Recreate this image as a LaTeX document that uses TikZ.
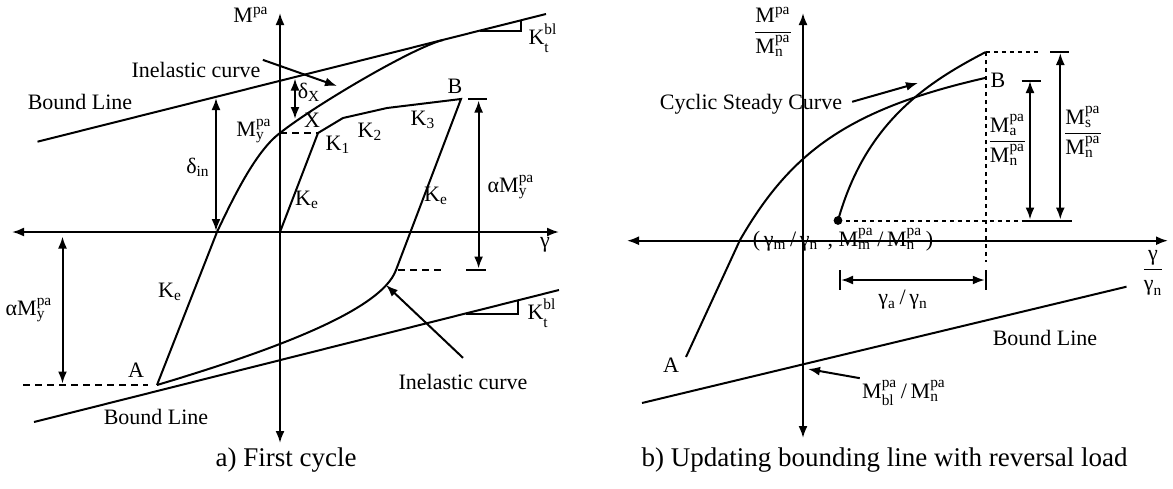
\documentclass[tikz,border=0pt]{standalone}
\usepackage{fontspec}
\setmainfont{Liberation Serif}
\usepackage{amsmath}
\usetikzlibrary{arrows.meta}

\newcommand{\lblfont}{\fontsize{11}{13}\selectfont}
\newcommand{\capfont}{\fontsize{13.5}{16}\selectfont}
\newcommand{\tsup}[1]{\ensuremath{^{\text{#1}}}}
\newcommand{\tsub}[1]{\ensuremath{_{\text{#1}}}}
\newcommand{\tsupsub}[2]{\ensuremath{^{\text{#1}}_{\text{#2}}}}
\newcommand{\ktbl}{K\ensuremath{^{\text{\raisebox{1pt}{bl}}}_{\text{\raisebox{-1.5pt}{t}}}}}

\begin{document}
\begin{tikzpicture}[x=0.5pt, y=-0.5pt,
    lbl/.style = {font=\lblfont, inner sep=1pt},
    captxt/.style = {font=\capfont, inner sep=1pt},
    axis/.style = {draw, {Latex[length=6pt, width=4.5pt]}-{Latex[length=6pt, width=4.5pt]}, line width=1pt},
    curve/.style = {draw, line width=1pt},
    arrow/.style = {draw, -{Latex[length=6pt, width=4.5pt]}, line width=1pt},
    dimline/.style = {draw, {Latex[length=6pt, width=4.5pt]}-{Latex[length=6pt, width=4.5pt]}, line width=1pt},
    dashline/.style = {draw, line width=1pt, dash pattern=on 3.5pt off 2.5pt},
    dotline/.style = {draw, line width=1pt, dash pattern=on 2pt off 2pt}
]
    \useasboundingbox (0,0) rectangle (1173,488);

    % ---------- a) First cycle ----------
    \coordinate (o_a) at (280,232);
    \coordinate (ya_top) at (280,13);
    \coordinate (ya_bot) at (280,443);
    \coordinate (xa_left) at (12,232);
    \coordinate (xa_right) at (559,232);
    \path[axis] (ya_bot) -- (ya_top);
    \path[axis] (xa_left) -- (xa_right);

    \node[lbl] (m_lab) at (251,15) {M\tsup{pa}};
    \node[lbl] (g_lab) at (545,245) {γ};

    % bound lines with slope triangles
    \coordinate (bl_up1) at (37.5,141.7);
    \coordinate (bl_up2) at (546,14);
    \coordinate (bl_lo1) at (34,422);
    \coordinate (bl_lo2) at (559,290);
    \path[curve] (bl_up1) -- (bl_up2);
    \path[curve] (bl_lo1) -- (bl_lo2);
    \path[curve] (480,30.6) -- (521,30.6) -- (521,20.3);
    \path[curve] (466,313.6) -- (518,313.6) -- (518,300.6);

    \node[lbl] (bound_up) at (80,102) {Bound Line};
    \node[lbl] (bound_lo) at (156,417) {Bound Line};
    \node[lbl] (kt_up) at (543,38) {\ktbl};
    \node[lbl] (kt_lo) at (542,313) {\ktbl};

    % monotonic inelastic curve
    \coordinate (a_pt) at (157,385);
    \coordinate (c_zero) at (217,232);
    \coordinate (my_pt) at (280,133);
    \coordinate (tan_pt) at (443,40);
    \path[curve] (a_pt) -- (c_zero) .. controls (232,200.5) and (255.3,151.3) .. (my_pt)
        .. controls (314.6,105.5) and (413,47.5) .. (tan_pt);

    % loading and unloading path
    \coordinate (x_pt) at (318,133);
    \coordinate (k1_end) at (343,118);
    \coordinate (k2_end) at (387,108);
    \coordinate (b_pt) at (461,99);
    \coordinate (ke_bend) at (396,270);
    \path[curve] (o_a) -- (x_pt) -- (k1_end) -- (k2_end) -- (b_pt) -- (ke_bend)
        .. controls (380.7,312.3) and (262.4,353.4) .. (a_pt);

    \node[lbl] (my_lab) at (254,131) {M\tsupsub{pa}{y}};
    \node[lbl] (x_lab) at (312,120) {X};
    \node[lbl] (k1_lab) at (338,145) {K\tsub{1}};
    \node[lbl] (k2_lab) at (370,132) {K\tsub{2}};
    \node[lbl] (k3_lab) at (423,120) {K\tsub{3}};
    \node[lbl] (b_lab) at (455,86) {B};
    \node[lbl] (ke_in) at (307,200) {K\tsub{e}};
    \node[lbl] (ke_right) at (436,196) {K\tsub{e}};
    \node[lbl] (ke_left) at (170,292) {K\tsub{e}};
    \node[lbl] (a_lab) at (136,370) {A};

    % dashed guides and ticks
    \coordinate (dl_a) at (23,385);
    \coordinate (dl_a2) at (148,385);
    \coordinate (dl_k1) at (398,270);
    \coordinate (dl_k2) at (446,270);
    \path[dashline] (my_pt) -- (x_pt);
    \path[dashline] (dl_a) -- (dl_a2);
    \path[dashline] (dl_k1) -- (dl_k2);
    \path[curve] (468,99) -- (487,99);
    \path[curve] (466,270) -- (486,270);

    % dimensions
    \path[dimline] (478.6,100.5) -- (478.6,268.5);
    \path[dimline] (62.5,236.5) -- (62.5,383.5);
    \path[dimline] (216,98) -- (216,231);
    \path[dimline] (295,78.5) -- (295,119);
    \node[lbl] (am_right) at (511,187) {αM\tsupsub{pa}{y}};
    \node[lbl] (am_left) at (29,310) {αM\tsupsub{pa}{y}};
    \node[lbl] (din_lab) at (198,167) {δ\tsub{in}};
    \node[lbl] (dx_lab) at (309,92) {δ\tsub{X}};

    % pointers
    \node[lbl] (inel_up) at (196,70) {Inelastic curve};
    \node[lbl] (inel_lo) at (463,382) {Inelastic curve};
    \coordinate (inel_up_tip) at (337,86);
    \coordinate (inel_lo_tip) at (386,285);
    \path[arrow] (inel_up.north east) -- (inel_up_tip);
    \path[arrow] ([yshift=7pt]inel_lo.north) -- (inel_lo_tip);

    \node[captxt] (cap_a) at (286,460) {a) First cycle};

    % ---------- b) Updating bounding line ----------
    \coordinate (yb_top) at (803,13);
    \coordinate (yb_bot) at (803,438);
    \coordinate (xb_left) at (627,240.7);
    \coordinate (xb_right) at (1168,240.7);
    \path[axis] (yb_bot) -- (yb_top);
    \path[axis] (xb_left) -- (xb_right);

    \node[lbl] (yfrac) at (773,32) {$\dfrac{\text{M}\tsup{pa}}{\text{M}\tsupsub{pa}{n}}$};
    \node[lbl] (xfrac) at (1153,273) {$\dfrac{\text{γ}}{\text{γ}\tsub{n}}$};

    % bound line
    \coordinate (bl_b1) at (642,403);
    \coordinate (bl_b2) at (1126.5,286.7);
    \path[curve] (bl_b1) -- (bl_b2);
    \node[lbl] (bound_b) at (1045,338) {Bound Line};

    % curve from A to B
    \coordinate (a2_pt) at (686,357);
    \coordinate (a2_zero) at (740,240);
    \coordinate (b2_pt) at (985,78);
    \path[curve] (a2_pt) -- (a2_zero) .. controls (790,153.4) and (846.6,109.5) .. (b2_pt);
    \node[lbl] (a2_lab) at (671,365) {A};
    \node[lbl] (b2_lab) at (998,80) {B};

    % reversal curve
    \coordinate (m_pt) at (838,220.5);
    \coordinate (s_pt) at (985.8,52);
    \path[curve] (m_pt) .. controls (865,124.5) and (923.4,84.3) .. (s_pt);
    \fill (m_pt) circle (2.2pt);

    % dotted guides and ticks
    \path[dotline] (m_pt) -- (1019,220.5);
    \path[dotline] (s_pt) -- (985.8,262);
    \path[dotline] (s_pt) -- (1040,52);
    \path[curve] (1021.7,220.5) -- (1072,220.5);
    \path[curve] (1050,52) -- (1069,52);
    \path[curve] (1021.7,80.5) -- (1040.5,80.5);
    \path[curve] (840,270) -- (840,290);
    \path[curve] (985.8,270) -- (985.8,290);

    % dimensions
    \path[dimline] (1030,81) -- (1030,219.5);
    \path[dimline] (1060.3,53) -- (1060.3,219.5);
    \path[dimline] (841,280) -- (984.8,280);
    \node[lbl] (ma_frac) at (1007.5,140) {$\dfrac{\text{M}\tsupsub{pa}{a}}{\text{M}\tsupsub{pa}{n}}$};
    \node[lbl] (ms_frac) at (1083,132) {$\dfrac{\text{M}\tsupsub{pa}{s}}{\text{M}\tsupsub{pa}{n}}$};
    \node[lbl] (ga_lab) at (903,300) {γ\tsub{a}\,/\,γ\tsub{n}};
    \node[lbl] (gm_lab) at (843,240) {(\,γ\tsub{m}\,/\,γ\tsub{n}\, , M\tsupsub{pa}{m}\,/\,M\tsupsub{pa}{n}\,)};

    % pointers
    \node[lbl] (cyc_lab) at (751,104) {Cyclic Steady Curve};
    \node[lbl] (mbl_lab) at (904,393) {M\tsupsub{pa}{bl}\,/\,M\tsupsub{pa}{n}};
    \coordinate (cyc_tip) at (918,83);
    \coordinate (mbl_tip) at (808,369);
    \path[arrow, shorten <=4pt] (cyc_lab.east) -- (cyc_tip);
    \path[arrow] (mbl_lab.north west) -- (mbl_tip);

    \node[captxt] (cap_b) at (884.5,460) {b) Updating bounding line with reversal load};
\end{tikzpicture}
\end{document}
